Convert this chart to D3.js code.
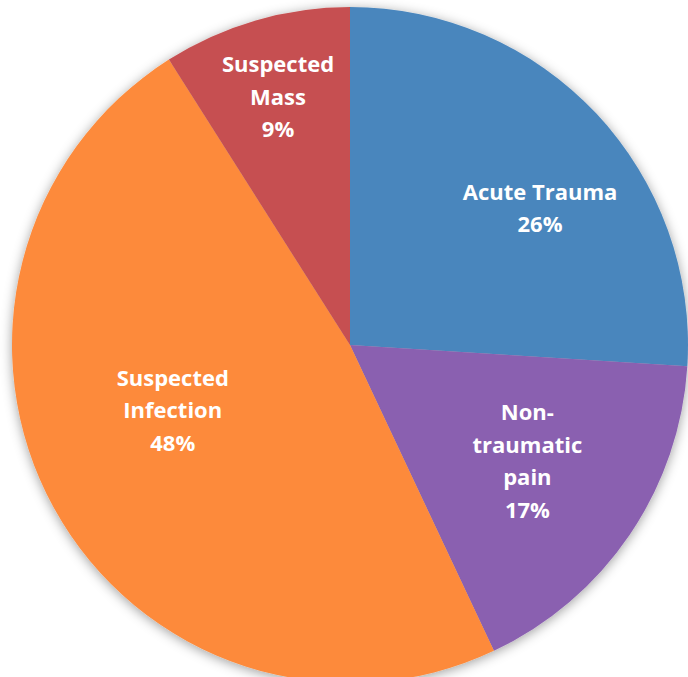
<!DOCTYPE html>
<html lang="en">
<head>
  <meta charset="UTF-8">
  <title>Pie Chart</title>
  <script src="https://d3js.org/d3.v7.min.js"></script>
  <style>
    body { margin: 0; background: #fff; overflow: hidden; }
    .label {
      font-family: "Open Sans", sans-serif;
      font-weight: bold;
      font-size: 22px;
      fill: #fff;
    }
  </style>
</head>
<body>
  <div id="chart"></div>

  <script>
    // Chart data
    const categories = ["Acute Trauma", "Non-traumatic pain", "Suspected Infection", "Suspected Mass"];
    const values = [26, 17, 48, 9];
    const labelLines = [
      ["Acute Trauma", "26%"],
      ["Non-", "traumatic", "pain", "17%"],
      ["Suspected", "Infection", "48%"],
      ["Suspected", "Mass", "9%"]
    ];

    const width = 688;
    const height = 677;
    const cx = 350, cy = 345, radius = 338;

    const color = d3.scaleOrdinal()
      .domain(categories)
      .range(["#4a86bd", "#8a60b0", "#fd8a3b", "#c65051"]);

    // label placement, radius and small angle nudge per slice
    const labelR = [234, 212, 189, 258];
    const labelNudge = [7.5, -1, 8.5, 0];

    const svg = d3.select("#chart")
      .append("svg")
      .attr("width", width)
      .attr("height", height);

    const defs = svg.append("defs");
    const shadow = defs.append("filter")
      .attr("id", "shadow")
      .attr("x", "-10%").attr("y", "-10%")
      .attr("width", "120%").attr("height", "120%");
    shadow.append("feDropShadow")
      .attr("dx", 0).attr("dy", 2)
      .attr("stdDeviation", 6)
      .attr("flood-color", "#000")
      .attr("flood-opacity", 0.38);

    const pie = d3.pie().sort(null).value(d => d);
    const arcs = pie(values);
    const arc = d3.arc().innerRadius(0).outerRadius(radius);

    const g = svg.append("g")
      .attr("transform", `translate(${cx}, ${cy})`);

    g.append("g")
      .attr("filter", "url(#shadow)")
      .selectAll("path")
      .data(arcs)
      .enter()
      .append("path")
      .attr("d", arc)
      .attr("fill", (d, i) => color(categories[i]));

    const lineH = 32.5;
    g.selectAll("text")
      .data(arcs)
      .enter()
      .append("text")
      .attr("class", "label")
      .attr("text-anchor", "middle")
      .each(function (d, i) {
        const mid = (d.startAngle + d.endAngle) / 2 + labelNudge[i] * Math.PI / 180;
        const [x, y] = d3.pointRadial(mid, labelR[i]);
        const lines = labelLines[i];
        const y0 = y - (lines.length - 1) * lineH / 2;
        d3.select(this).selectAll("tspan")
          .data(lines)
          .enter()
          .append("tspan")
          .attr("x", x)
          .attr("y", (t, j) => y0 + j * lineH)
          .attr("dy", "0.35em")
          .text(t => t);
      });
  </script>
</body>
</html>
